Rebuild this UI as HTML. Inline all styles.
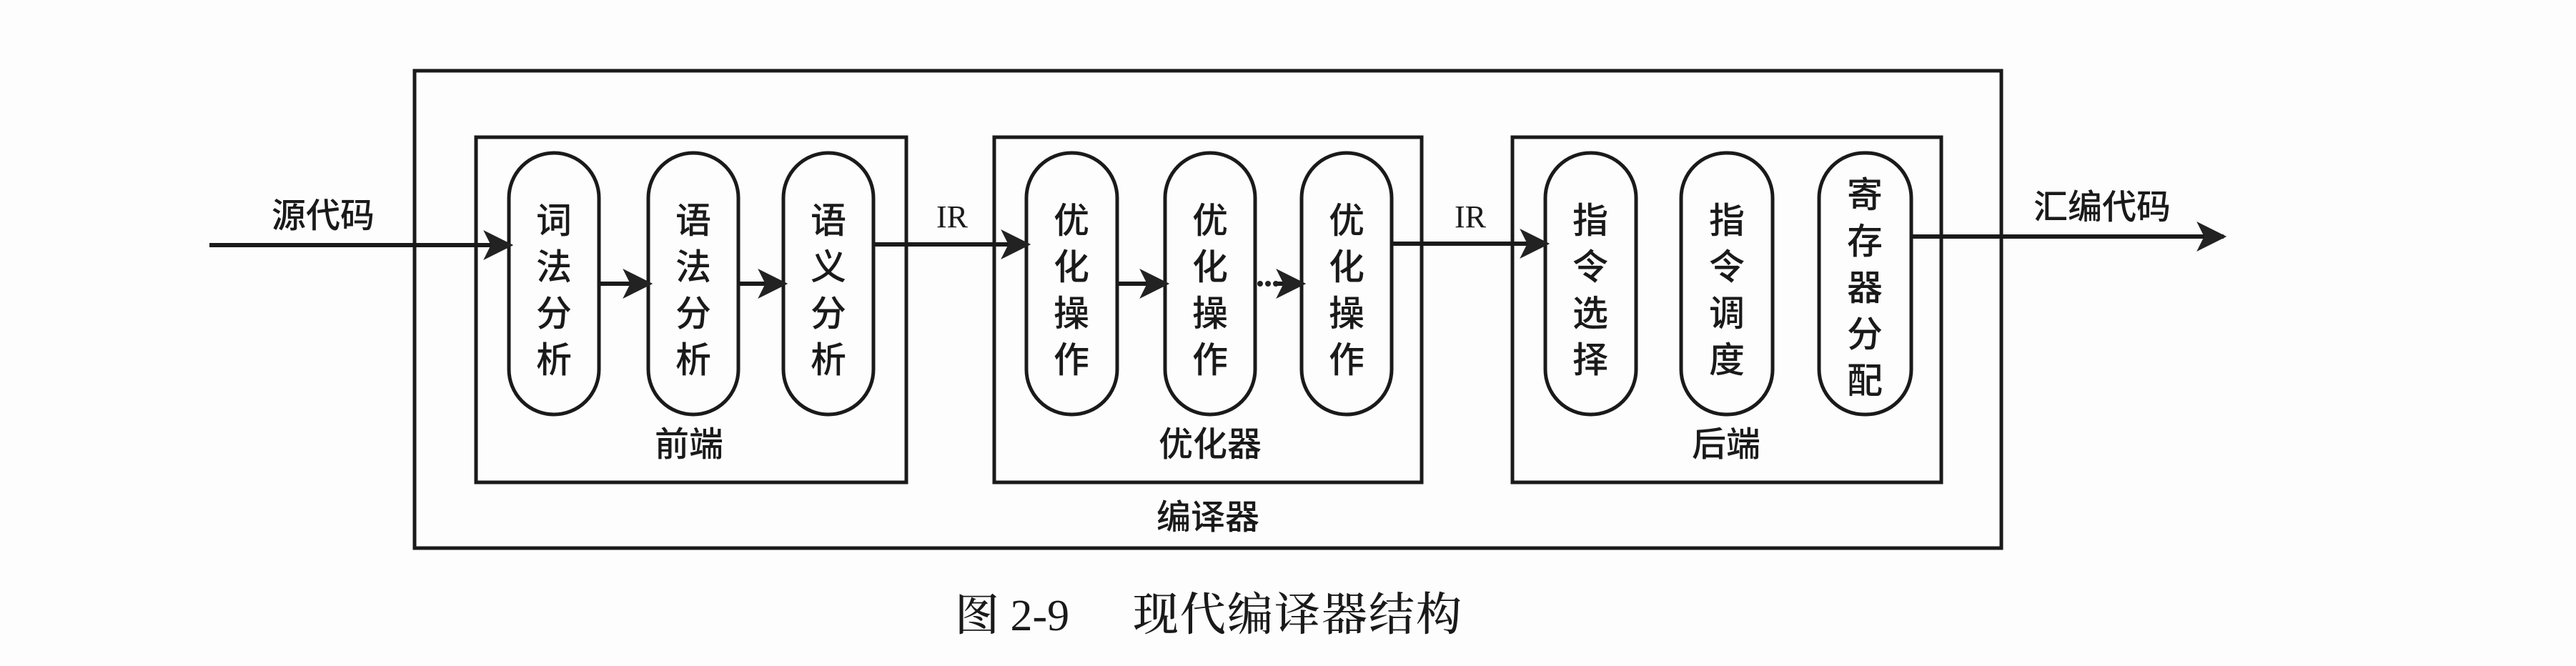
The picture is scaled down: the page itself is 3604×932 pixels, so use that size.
<!DOCTYPE html>
<html><head><meta charset="utf-8"><style>
html,body{margin:0;padding:0;background:#fdfdfd;}
svg{display:block}
text{font-family:"Liberation Sans","Noto Sans CJK SC",sans-serif;fill:#1a1a1a;font-weight:500;}
.s{font-family:"Liberation Serif","Noto Serif CJK SC",serif;}
</style></head><body>
<svg width="3604" height="932" viewBox="0 0 3604 932" xmlns="http://www.w3.org/2000/svg">
<defs>
<marker id="b" viewBox="0 0 10 10" refX="9" refY="5" markerWidth="42" markerHeight="42" orient="auto" markerUnits="userSpaceOnUse"><path d="M0,0 L10,5 L0,10 L2.5,5 z" fill="#222"/></marker></defs>
<g fill="none" stroke="#1a1a1a" stroke-width="5">
<rect x="580" y="99" width="2220" height="668"/>
<rect x="666" y="192" width="602" height="483"/>
<rect x="1391" y="192" width="598" height="483"/>
<rect x="2116" y="192" width="600" height="483"/>
<g stroke-width="5">
<rect x="712" y="214" width="126" height="366" rx="63"/>
<rect x="907" y="214" width="126" height="366" rx="63"/>
<rect x="1096" y="214" width="126" height="366" rx="63"/>
<rect x="1436" y="214" width="127" height="366" rx="63"/>
<rect x="1630" y="214" width="126" height="366" rx="63"/>
<rect x="1821" y="214" width="126" height="366" rx="63"/>
<rect x="2162" y="214" width="127" height="366" rx="63"/>
<rect x="2352" y="214" width="128" height="366" rx="63"/>
<rect x="2545" y="214" width="129" height="366" rx="63"/>
</g>
<g stroke-width="6" marker-end="url(#b)">
<line x1="293" y1="343" x2="714" y2="343"/>
<line x1="1222" y1="342" x2="1438" y2="342"/>
<line x1="1947" y1="341" x2="2164" y2="341"/>
<line x1="2674" y1="331" x2="3111" y2="331"/>
<line x1="838" y1="397" x2="909" y2="397"/>
<line x1="1033" y1="397" x2="1098" y2="397"/>
<line x1="1563" y1="397" x2="1632" y2="397"/>
<line x1="1785" y1="397" x2="1823" y2="397"/>
</g>
</g>
<g fill="#222"><circle cx="1763" cy="397" r="4"/><circle cx="1774" cy="397" r="4"/><circle cx="1785" cy="397" r="4"/></g>
<g font-size="48" text-anchor="middle">
<text x="452" y="318">源代码</text>
<text x="2941" y="306">汇编代码</text>
<text x="1332" y="318" font-size="44" class="s" font-weight="bold">IR</text>
<text x="2057" y="318" font-size="44" class="s" font-weight="bold">IR</text>
<text x="964" y="638">前端</text>
<text x="1693" y="638">优化器</text>
<text x="2415" y="638">后端</text>
<text x="1690" y="740">编译器</text>
</g>
<g font-size="50" text-anchor="middle">
<text x="775"><tspan x="775" y="326">词</tspan><tspan x="775" y="391">法</tspan><tspan x="775" y="456">分</tspan><tspan x="775" y="521">析</tspan></text>
<text x="970"><tspan x="970" y="326">语</tspan><tspan x="970" y="391">法</tspan><tspan x="970" y="456">分</tspan><tspan x="970" y="521">析</tspan></text>
<text x="1159"><tspan x="1159" y="326">语</tspan><tspan x="1159" y="391">义</tspan><tspan x="1159" y="456">分</tspan><tspan x="1159" y="521">析</tspan></text>
<text x="1499"><tspan x="1499" y="326">优</tspan><tspan x="1499" y="391">化</tspan><tspan x="1499" y="456">操</tspan><tspan x="1499" y="521">作</tspan></text>
<text x="1693"><tspan x="1693" y="326">优</tspan><tspan x="1693" y="391">化</tspan><tspan x="1693" y="456">操</tspan><tspan x="1693" y="521">作</tspan></text>
<text x="1884"><tspan x="1884" y="326">优</tspan><tspan x="1884" y="391">化</tspan><tspan x="1884" y="456">操</tspan><tspan x="1884" y="521">作</tspan></text>
<text x="2225"><tspan x="2225" y="326">指</tspan><tspan x="2225" y="391">令</tspan><tspan x="2225" y="456">选</tspan><tspan x="2225" y="521">择</tspan></text>
<text x="2416"><tspan x="2416" y="326">指</tspan><tspan x="2416" y="391">令</tspan><tspan x="2416" y="456">调</tspan><tspan x="2416" y="521">度</tspan></text>
<text x="2609"><tspan x="2609" y="290">寄</tspan><tspan x="2609" y="355">存</tspan><tspan x="2609" y="420">器</tspan><tspan x="2609" y="485">分</tspan><tspan x="2609" y="550">配</tspan></text>
</g>
<text x="1336" y="882" font-size="62" class="s">图 2-9</text>
<text x="1585" y="882" font-size="64" class="s" letter-spacing="2">现代编译器结构</text>
</svg>
</body></html>
